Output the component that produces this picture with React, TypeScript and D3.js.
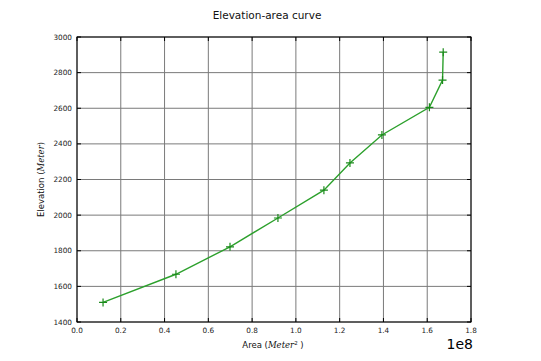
import React, { useEffect, useRef } from 'react';
import * as d3 from 'd3';

const areas = [0.119e8, 0.452e8, 0.699e8, 0.918e8, 1.128e8, 1.247e8, 1.393e8, 1.61e8, 1.67e8, 1.673e8];
const elevations = [1510, 1668, 1822, 1984, 2140, 2293, 2450, 2605, 2758, 2915];
const xTicks = [0, 0.2e8, 0.4e8, 0.6e8, 0.8e8, 1.0e8, 1.2e8, 1.4e8, 1.6e8, 1.8e8];
const yTicks = [1400, 1600, 1800, 2000, 2200, 2400, 2600, 2800, 3000];

const App = () => {
  const svgRef = useRef<SVGSVGElement>(null);

  useEffect(() => {
    const width = 541;
    const height = 361;
    const margin = { top: 37, right: 70, bottom: 39, left: 77 };
    const chartWidth = width - margin.left - margin.right;
    const chartHeight = height - margin.top - margin.bottom;
    const font = 'DejaVu Sans, sans-serif';

    const svg = d3.select(svgRef.current).attr('width', width).attr('height', height);
    svg.selectAll('*').remove();
    svg.append('rect').attr('width', width).attr('height', height).attr('fill', '#fff');

    const x = d3.scaleLinear().domain([0, 1.8e8]).range([0, chartWidth]);
    const y = d3.scaleLinear().domain([1400, 3000]).range([chartHeight, 0]);

    const g = svg.append('g').attr('transform', `translate(${margin.left},${margin.top})`);

    // grid
    g.selectAll('.vgrid')
      .data(xTicks)
      .enter()
      .append('line')
      .attr('x1', d => x(d))
      .attr('x2', d => x(d))
      .attr('y1', 0)
      .attr('y2', chartHeight)
      .attr('stroke', '#7a7a7a')
      .attr('stroke-width', 1);

    g.selectAll('.hgrid')
      .data(yTicks)
      .enter()
      .append('line')
      .attr('x1', 0)
      .attr('x2', chartWidth)
      .attr('y1', d => y(d))
      .attr('y2', d => y(d))
      .attr('stroke', '#7a7a7a')
      .attr('stroke-width', 1);

    // inward ticks on all sides
    const tl = 4;
    xTicks.forEach(t => {
      g.append('line').attr('x1', x(t)).attr('x2', x(t)).attr('y1', chartHeight).attr('y2', chartHeight - tl).attr('stroke', '#000');
      g.append('line').attr('x1', x(t)).attr('x2', x(t)).attr('y1', 0).attr('y2', tl).attr('stroke', '#000');
    });
    yTicks.forEach(t => {
      g.append('line').attr('x1', 0).attr('x2', tl).attr('y1', y(t)).attr('y2', y(t)).attr('stroke', '#000');
      g.append('line').attr('x1', chartWidth).attr('x2', chartWidth - tl).attr('y1', y(t)).attr('y2', y(t)).attr('stroke', '#000');
    });

    g.append('rect')
      .attr('width', chartWidth)
      .attr('height', chartHeight)
      .attr('fill', 'none')
      .attr('stroke', '#000')
      .attr('stroke-width', 1);

    // tick labels
    g.selectAll('.xlab')
      .data(xTicks)
      .enter()
      .append('text')
      .attr('x', d => x(d))
      .attr('y', chartHeight + 11)
      .attr('text-anchor', 'middle')
      .style('font-family', font)
      .style('font-size', '7.3px')
      .attr('fill', '#222')
      .text(d => (d / 1e8).toFixed(1));

    g.selectAll('.ylab')
      .data(yTicks)
      .enter()
      .append('text')
      .attr('x', -5)
      .attr('y', d => y(d) + 2.5)
      .attr('text-anchor', 'end')
      .style('font-family', font)
      .style('font-size', '7.3px')
      .attr('fill', '#222')
      .text(d => d);

    // line
    const pts = areas.map((a, i) => [a, elevations[i]] as [number, number]);
    const line = d3.line<[number, number]>().x(d => x(d[0])).y(d => y(d[1]));
    g.append('path')
      .datum(pts)
      .attr('d', line)
      .attr('fill', 'none')
      .attr('stroke', '#2ca02c')
      .attr('stroke-width', 1.4);

    const ms = 4;
    pts.forEach(p => {
      const px = x(p[0]);
      const py = y(p[1]);
      g.append('path')
        .attr('d', `M${px - ms},${py}H${px + ms}M${px},${py - ms}V${py + ms}`)
        .attr('stroke', '#1a8a1a')
        .attr('stroke-width', 1.2);
    });

    // title
    svg.append('text')
      .attr('x', 267)
      .attr('y', 19)
      .attr('text-anchor', 'middle')
      .style('font-family', font)
      .style('font-size', '10.5px')
      .attr('fill', '#111')
      .text('Elevation-area curve');

    // x label
    const xl = svg.append('text')
      .attr('x', 273)
      .attr('y', height - 13)
      .attr('text-anchor', 'middle')
      .style('font-family', font)
      .style('font-size', '8.5px')
      .attr('fill', '#111');
    xl.append('tspan').text('Area (');
    xl.append('tspan').style('font-family', 'DejaVu Serif, serif').style('font-style', 'italic').text('Meter');
    xl.append('tspan').attr('dy', -3).style('font-size', '5.5px').text('2');
    xl.append('tspan').attr('dy', 3).text(' )');

    // offset text
    svg.append('text')
      .attr('x', 473)
      .attr('y', height - 12)
      .attr('text-anchor', 'end')
      .style('font-family', font)
      .style('font-size', '14px')
      .attr('fill', '#000')
      .text('1e8');

    // y label
    const yl = svg.append('text')
      .attr('transform', `translate(44,${margin.top + chartHeight / 2}) rotate(-90)`)
      .attr('text-anchor', 'middle')
      .style('font-family', font)
      .style('font-size', '8.5px')
      .attr('fill', '#111');
    yl.append('tspan').text('Elevation (');
    yl.append('tspan').style('font-family', 'DejaVu Serif, serif').style('font-style', 'italic').text('Meter');
    yl.append('tspan').text(')');
  }, []);

  return (
    <div style={{ position: 'absolute', left: 0, top: 0 }}>
      <svg ref={svgRef}></svg>
    </div>
  );
};

export default App;
